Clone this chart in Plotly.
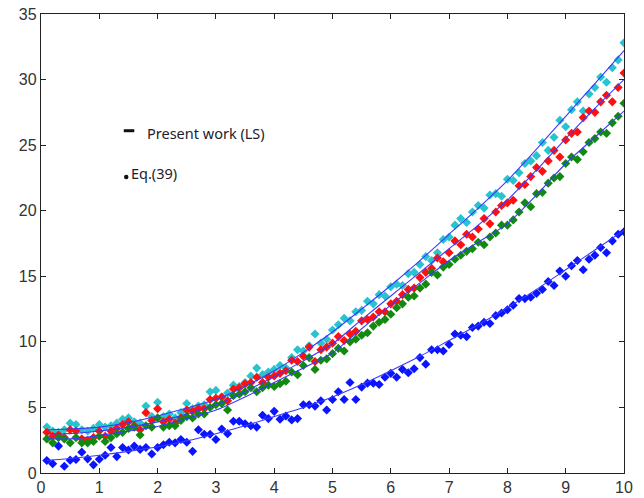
import numpy as np
import plotly.graph_objects as go

# sample abscissa for the measured points (0.1 .. 10.0)
x_pts = [round(0.1 * i, 1) for i in range(1, 101)]

cyan_pts = [3.5, 3.2, 3.1, 3.3, 3.8, 3.7, 3.3, 3.2, 3.4, 3.7,
            3.5, 3.6, 3.8, 4.1, 4.2, 3.9, 3.8, 5.1, 4.3, 5.4,
            4.3, 4.5, 4.2, 4.6, 5.3, 4.9, 5.1, 5.2, 6.2, 6.3,
            5.8, 6.1, 6.7, 6.6, 6.9, 7.4, 8.0, 7.5, 7.7, 7.9,
            8.2, 8.0, 8.8, 9.4, 9.3, 9.7, 10.6, 9.9, 10.2, 10.9,
            11.3, 11.8, 11.6, 12.3, 12.4, 13.1, 12.9, 13.6, 13.5, 14.2,
            14.4, 14.3, 15.2, 15.3, 15.9, 16.5, 16.2, 16.8, 17.8, 18.0,
            18.9, 19.4, 19.1, 19.9, 20.4, 20.2, 21.2, 21.3, 21.1, 22.4,
            22.3, 22.9, 23.6, 23.8, 24.2, 25.2, 24.6, 25.6, 26.9, 26.4,
            27.7, 28.3, 27.6, 28.9, 29.4, 30.2, 29.8, 30.9, 31.5, 32.8]

red_pts = [3.1, 2.8, 2.9, 2.7, 3.3, 3.2, 2.6, 2.5, 2.7, 3.2,
           2.8, 3.2, 3.4, 3.7, 3.9, 3.6, 3.3, 4.6, 4.0, 4.9,
           3.9, 4.1, 3.8, 4.2, 4.8, 4.7, 4.9, 4.9, 5.6, 5.7,
           5.8, 5.5, 6.4, 6.5, 6.8, 6.9, 7.3, 6.9, 7.3, 7.4,
           7.6, 7.8, 8.6, 8.5, 8.9, 9.6, 8.5, 9.4, 9.6, 9.9,
           10.4, 10.1, 10.6, 10.8, 11.6, 11.7, 11.9, 12.3, 12.3, 12.9,
           13.1, 13.6, 14.0, 14.1, 14.9, 15.3, 15.6, 16.4, 16.1, 16.8,
           17.7, 17.4, 18.2, 18.0, 18.6, 19.4, 19.0, 19.9, 20.4, 20.6,
           20.8, 21.9, 22.0, 22.6, 23.3, 23.0, 23.8, 24.6, 24.1, 25.4,
           25.9, 26.0, 27.1, 27.6, 27.5, 28.3, 28.8, 28.3, 29.4, 30.5]

green_pts = [2.6, 2.3, 2.7, 2.6, 2.3, 2.7, 2.3, 2.3, 2.4, 2.8,
             2.4, 2.7, 3.0, 3.1, 3.4, 3.5, 2.9, 3.6, 3.5, 4.2,
             3.5, 3.6, 3.6, 4.0, 4.3, 4.2, 4.5, 4.5, 5.0, 5.2,
             5.3, 4.8, 5.9, 6.0, 6.2, 6.5, 6.2, 6.5, 6.7, 6.6,
             6.8, 7.0, 7.7, 7.5, 8.2, 8.8, 7.9, 8.6, 8.7, 9.1,
             9.5, 9.3, 10.0, 10.2, 10.5, 10.7, 11.2, 11.5, 11.7, 12.1,
             12.6, 12.9, 13.4, 13.5, 14.1, 14.4, 15.3, 15.1, 15.7, 15.9,
             16.3, 16.6, 16.9, 17.1, 17.6, 17.4, 18.0, 18.3, 18.9, 18.9,
             19.3, 19.9, 20.6, 20.3, 21.3, 21.4, 22.1, 22.5, 22.6, 23.6,
             24.1, 23.9, 24.5, 25.2, 25.5, 26.0, 25.9, 26.7, 27.2, 28.2]

blue_pts = [0.95, 0.70, 2.05, 0.52, 0.98, 1.03, 1.59, 1.08, 0.62, 1.05,
            1.35, 1.95, 1.25, 1.95, 1.75, 2.05, 1.80, 1.95, 1.45, 1.95,
            2.15, 2.35, 2.30, 2.55, 2.35, 1.65, 3.30, 2.95, 2.95, 2.55,
            3.35, 3.00, 3.95, 3.95, 3.75, 3.60, 3.50, 4.40, 4.15, 4.70,
            4.10, 4.35, 4.05, 4.15, 5.20, 5.20, 5.10, 5.50, 4.80, 5.60,
            6.20, 5.60, 6.90, 5.60, 6.55, 6.85, 6.85, 6.75, 7.30, 7.60,
            7.30, 7.90, 7.65, 7.95, 8.80, 8.30, 9.40, 9.40, 9.30, 9.80,
            10.6, 10.5, 10.4, 11.1, 11.2, 11.5, 11.4, 12.0, 12.2, 12.45,
            12.8, 13.3, 13.3, 13.4, 13.7, 14.0, 14.6, 14.3, 15.4, 15.0,
            15.8, 16.2, 15.5, 16.3, 16.6, 17.2, 16.8, 17.7, 18.2, 18.4]

# least-squares curves (Present work) sampled every 0.5
x_fit = [0.1, 0.5, 1.0, 1.5, 2.0, 2.5, 3.0, 3.5, 4.0, 4.5, 5.0,
         5.5, 6.0, 6.5, 7.0, 7.5, 8.0, 8.5, 9.0, 9.5, 10.0]
cyan_fit = [3.3, 3.35, 3.5, 3.85, 4.35, 4.95, 5.6, 6.6, 7.8, 9.2, 10.75,
            12.5, 14.3, 16.2, 18.2, 20.2, 22.3, 24.7, 27.2, 29.7, 32.2]
red_fit = [3.0, 3.0, 3.2, 3.5, 3.9, 4.5, 5.2, 6.2, 7.35, 8.55, 9.85,
           11.7, 13.5, 15.3, 17.1, 18.9, 20.8, 23.1, 25.5, 27.8, 30.0]
green_fit = [2.6, 2.6, 2.85, 3.2, 3.55, 4.15, 4.8, 5.8, 6.9, 8.0, 9.15,
             11.0, 12.8, 14.5, 16.2, 17.6, 19.0, 21.2, 23.6, 25.6, 27.6]
blue_fit = [0.95, 1.1, 1.35, 1.65, 2.0, 2.45, 3.0, 3.6, 4.3, 5.0, 5.8,
            6.75, 7.8, 8.9, 10.1, 11.3, 12.6, 14.0, 15.5, 17.0, 18.5]

x_ticks = list(range(0, 11))
y_ticks = list(range(0, 36, 5))

fig = go.Figure()

point_sets = [(cyan_pts, "#27c3cf"), (red_pts, "#ff1010"),
              (green_pts, "#128a12"), (blue_pts, "#0a14ff")]
for vals, col in point_sets:
    fig.add_trace(go.Scatter(x=x_pts, y=vals, mode="markers",
                             marker=dict(symbol="diamond", size=7, color=col,
                                         line=dict(width=0)),
                             showlegend=False))

for vals in (cyan_fit, red_fit, green_fit, blue_fit):
    fig.add_trace(go.Scatter(x=x_fit, y=vals, mode="lines",
                             line=dict(color="#3a3aff", width=1.1, shape="spline",
                                       smoothing=0.6),
                             showlegend=False))

# in-plot key
fig.add_shape(type="line", x0=1.42, x1=1.60, y0=26.1, y1=26.1,
              line=dict(color="#111111", width=3))
fig.add_trace(go.Scatter(x=[1.462], y=[22.58], mode="markers",
                         marker=dict(symbol="circle", size=4.5, color="#111111"),
                         showlegend=False))
key_font = dict(family="Noto Sans", size=14.5, color="#1c1c2c")
fig.add_annotation(x=1.78, y=25.94, text="Present work (LS)", showarrow=False,
                   xanchor="left", yanchor="middle", font=key_font)
fig.add_annotation(x=1.51, y=22.84, text="Eq.(39)", showarrow=False,
                   xanchor="left", yanchor="middle", font=key_font)

axis_common = dict(showline=True, linecolor="#222222", linewidth=1.3,
                   mirror="ticks", ticks="inside", ticklen=5,
                   tickcolor="#222222", tickwidth=1, showgrid=False,
                   zeroline=False, automargin=False,
                   tickfont=dict(family="Liberation Sans", size=16, color="#333333"))

fig.update_xaxes(range=[0, 10], tickvals=x_ticks, **axis_common)
fig.update_yaxes(range=[0, 35], tickvals=y_ticks, **axis_common)

fig.update_layout(width=644, height=498,
                  margin=dict(l=41, r=20, t=14, b=25),
                  plot_bgcolor="white", paper_bgcolor="white",
                  showlegend=False)

fig.write_html("out.html")
